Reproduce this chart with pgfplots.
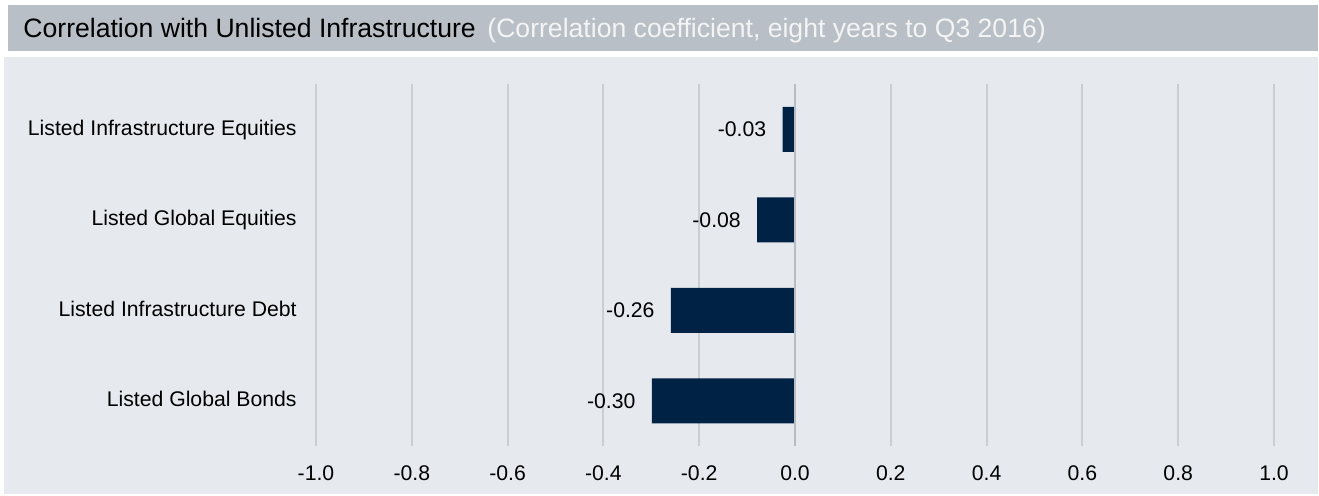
\documentclass[border=0pt]{standalone}
\usepackage{fontspec}
\setmainfont{Liberation Sans}
\usepackage{pgfplots}
\usepackage{pgfplotstable}
\pgfplotsset{compat=1.18}
\definecolor{titlebar}{RGB}{185,191,198}
\definecolor{panel}{RGB}{230,233,238}
\definecolor{gridc}{RGB}{202,206,212}
\definecolor{zeroc}{RGB}{184,189,196}
\definecolor{navy}{RGB}{0,34,68}
\definecolor{subt}{RGB}{244,244,244}

\pgfplotstableread{
c v lab
0 -0.026 -0.03
1 -0.079 -0.08
2 -0.259 -0.26
3 -0.299 -0.30
}\corrdata

\begin{document}
\begin{tikzpicture}
\begin{scope}[x=0.5pt,y=-0.5pt]
\path (0,0) rectangle (1319,495);
\fill[titlebar] (8,5) rectangle (1318,50.5);
\fill[panel] (4,56.7) rectangle (1318,494.3);
\node[anchor=base west, inner sep=0pt, font=\fontsize{13.3}{15}\selectfont] at (23,37) {Correlation with Unlisted Infrastructure};
\node[anchor=base west, inner sep=0pt, text=subt, font=\fontsize{13.3}{15}\selectfont] at (487,37) {(Correlation coefficient, eight years to Q3 2016)};
\end{scope}
\begin{axis}[
  at={(158pt,-223pt)}, anchor=south west,
  scale only axis, width=479pt, height=181pt,
  xmin=-1, xmax=1, ymin=-0.5, ymax=3.5, y dir=reverse,
  xbar, bar width=22.5pt, bar shift=0pt,
  xtick={-1,-0.8,-0.6,-0.4,-0.2,0,0.2,0.4,0.6,0.8,1},
  xticklabels={-1.0,-0.8,-0.6,-0.4,-0.2,0.0,0.2,0.4,0.6,0.8,1.0},
  ytick={0,1,2,3},
  yticklabels={Listed Infrastructure Equities,Listed Global Equities,Listed Infrastructure Debt,Listed Global Bonds},
  xmajorgrids, ymajorgrids=false,
  major grid style={gridc, line width=1pt},
  axis line style={draw=none},
  major tick length=0pt,
  tick label style={font=\fontsize{10.6}{12}\selectfont},
  xticklabel style={anchor=base, inner sep=0pt, yshift=-17pt},
  yticklabel style={anchor=base east, inner sep=0pt, xshift=-9.5pt, yshift=-3pt},
  point meta=explicit symbolic,
  nodes near coords,
  every node near coord/.append style={anchor=base east, inner sep=0pt, xshift=-8pt, yshift=-3.75pt, font=\fontsize{10.6}{12}\selectfont, text=black},
]
\addplot[fill=navy, draw=none] table[x=v, y=c, meta=lab] {\corrdata};
\draw[zeroc, line width=1pt] (axis cs:0,-0.5) -- (axis cs:0,3.5);
\end{axis}
\end{tikzpicture}
\end{document}
